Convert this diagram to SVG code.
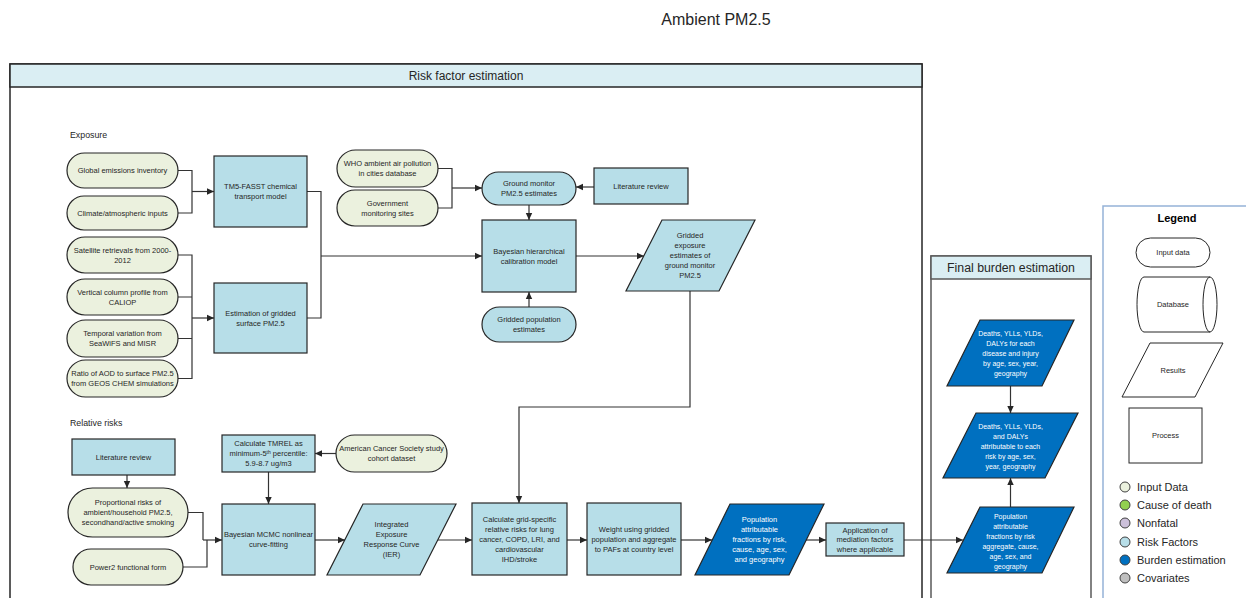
<svg xmlns="http://www.w3.org/2000/svg" width="1246" height="598" viewBox="0 0 1246 598">
  <style>
    .t { font-family: "Liberation Sans", Arial, sans-serif; font-size: 7.5px; fill: #262626; text-anchor: middle; }
    .tw { fill: #ffffff; }
    .tf { font-size: 7px; }
    .lbl { font-family: "Liberation Sans", Arial, sans-serif; font-size: 8.8px; fill: #262626; }
    .inp { fill: #EBF1DE; stroke: #262626; stroke-width: 1.2; }
    .proc { fill: #B7DEE8; stroke: #262626; stroke-width: 1.2; }
    .burden { fill: #0070C0; stroke: #262626; stroke-width: 1.2; }
    .blank { fill: #ffffff; stroke: #262626; stroke-width: 1; }
    .conn { fill: none; stroke: #333333; stroke-width: 1.2; }
    .frame { fill: #ffffff; stroke: #262626; stroke-width: 1.5; }
    .head { fill: #DAEEF3; stroke: #262626; stroke-width: 1.5; }
    .dot { stroke: #404040; stroke-width: 1; }
    .leg { font-family: "Liberation Sans", Arial, sans-serif; font-size: 11px; fill: #262626; }
  </style>
  <defs>
    <marker id="arr" markerWidth="8" markerHeight="8" refX="7" refY="4" orient="auto" markerUnits="userSpaceOnUse">
      <path d="M0,0.8 L7,4 L0,7.2 Z" fill="#262626"/>
    </marker>
  </defs>

  <rect width="1246" height="598" fill="#ffffff"/>

  <!-- page title -->
  <text x="716" y="25" font-family="Liberation Sans, Arial, sans-serif" font-size="16" fill="#262626" text-anchor="middle">Ambient PM2.5</text>

  <!-- swimlane frames -->
  <g id="frame-risk">
    <rect class="frame" x="10" y="64" width="912" height="560"/>
    <rect class="head" x="10" y="64" width="912" height="23"/>
    <text x="466" y="79.5" font-family="Liberation Sans, Arial, sans-serif" font-size="12" fill="#262626" text-anchor="middle">Risk factor estimation</text>
    <text class="lbl" x="70" y="138">Exposure</text>
    <text class="lbl" x="70" y="426">Relative risks</text>
  </g>
  <g id="frame-burden">
    <rect x="931" y="256" width="160" height="370" fill="#ffffff" stroke="#595959" stroke-width="1.5"/>
    <rect x="931" y="256" width="160" height="23" fill="#DAEEF3" stroke="#595959" stroke-width="1.5"/>
    <text x="1011" y="272" font-family="Liberation Sans, Arial, sans-serif" font-size="12.3" fill="#262626" text-anchor="middle">Final burden estimation</text>
  </g>

  <!-- connectors -->
  <g id="connectors">
    <path class="conn" d="M178,170.5 H192 V213 H178"/>
    <path class="conn" d="M192,191.5 H214" marker-end="url(#arr)"/>
    <path class="conn" d="M178,255 H192 V378.5 H178 M178,297 H192 M178,338.5 H192"/>
    <path class="conn" d="M192,318 H214" marker-end="url(#arr)"/>
    <path class="conn" d="M307,191.5 H321 V318 H307"/>
    <path class="conn" d="M321,256 H482" marker-end="url(#arr)"/>
    <path class="conn" d="M438,168.5 H452 V208 H438"/>
    <path class="conn" d="M452,188 H482" marker-end="url(#arr)"/>
    <path class="conn" d="M594,187 H576" marker-end="url(#arr)"/>
    <path class="conn" d="M529,205 V220" marker-end="url(#arr)"/>
    <path class="conn" d="M529,307 V292" marker-end="url(#arr)"/>
    <path class="conn" d="M576,256 H644" marker-end="url(#arr)"/>
    <path class="conn" d="M690,291 V407 H519 V503" marker-end="url(#arr)"/>
    <path class="conn" d="M127,475 V488" marker-end="url(#arr)"/>
    <path class="conn" d="M188,512.5 H203 V540"/>
    <path class="conn" d="M183,567 H207 V540"/>
    <path class="conn" d="M203,540 H222" marker-end="url(#arr)"/>
    <path class="conn" d="M268.5,472 V504" marker-end="url(#arr)"/>
    <path class="conn" d="M336,453.5 H315" marker-end="url(#arr)"/>
    <path class="conn" d="M315,540 H345" marker-end="url(#arr)"/>
    <path class="conn" d="M438,540 H472" marker-end="url(#arr)"/>
    <path class="conn" d="M567,540 H587" marker-end="url(#arr)"/>
    <path class="conn" d="M681,540 H712" marker-end="url(#arr)"/>
    <path class="conn" d="M806,540 H826" marker-end="url(#arr)"/>
    <path class="conn" d="M904,540 H963" marker-end="url(#arr)"/>
    <path class="conn" d="M1010.5,386 V413" marker-end="url(#arr)"/>
    <path class="conn" d="M1010.5,507 V478" marker-end="url(#arr)"/>
  </g>

  <!-- exposure inputs -->
  <g id="in-global">
    <rect class="inp" x="67" y="153" width="111" height="35" rx="17.5"/>
    <text class="t" x="122.5" y="173.1">Global emissions inventory</text>
  </g>
  <g id="in-climate">
    <rect class="inp" x="67" y="196" width="111" height="34" rx="17"/>
    <text class="t" x="122.5" y="215.6">Climate/atmospheric inputs</text>
  </g>
  <g id="in-satellite">
    <rect class="inp" x="67" y="237" width="111" height="36" rx="18"/>
    <text class="t" x="122.5" y="252.6">Satellite retrievals from 2000-</text>
    <text class="t" x="122.5" y="262.6">2012</text>
  </g>
  <g id="in-vertical">
    <rect class="inp" x="67" y="279" width="111" height="36" rx="18"/>
    <text class="t" x="122.5" y="294.6">Vertical column profile from</text>
    <text class="t" x="122.5" y="304.6">CALIOP</text>
  </g>
  <g id="in-temporal">
    <rect class="inp" x="67" y="320" width="111" height="37" rx="18.5"/>
    <text class="t" x="122.5" y="336.1">Temporal variation from</text>
    <text class="t" x="122.5" y="346.1">SeaWiFS and MISR</text>
  </g>
  <g id="in-ratio">
    <rect class="inp" x="67" y="360" width="111" height="37" rx="18.5"/>
    <text class="t" x="122.5" y="376.1">Ratio of AOD to surface PM2.5</text>
    <text class="t" x="122.5" y="386.1">from GEOS CHEM simulations</text>
  </g>

  <!-- exposure models -->
  <g id="tm5-fasst">
    <rect class="proc" x="214" y="156" width="93" height="71"/>
    <text class="t" x="260.5" y="189.1">TM5-FASST chemical</text>
    <text class="t" x="260.5" y="199.1">transport model</text>
  </g>
  <g id="gridded-surface">
    <rect class="proc" x="214" y="283" width="93" height="70"/>
    <text class="t" x="260.5" y="315.6">Estimation of gridded</text>
    <text class="t" x="260.5" y="325.6">surface PM2.5</text>
  </g>
  <g id="in-who">
    <rect class="inp" x="337" y="150" width="101" height="37" rx="18.5"/>
    <text class="t" x="387.5" y="166.1">WHO ambient air pollution</text>
    <text class="t" x="387.5" y="176.1">in cities database</text>
  </g>
  <g id="in-government">
    <rect class="inp" x="337" y="190" width="101" height="36" rx="18"/>
    <text class="t" x="387.5" y="205.6">Government</text>
    <text class="t" x="387.5" y="215.6">monitoring sites</text>
  </g>
  <g id="ground-monitor">
    <rect class="proc" x="482" y="172" width="94" height="33" rx="16.5"/>
    <text class="t" x="529" y="186.1">Ground monitor</text>
    <text class="t" x="529" y="196.1">PM2.5 estimates</text>
  </g>
  <g id="literature-exposure">
    <rect class="proc" x="594" y="168" width="94" height="36"/>
    <text class="t" x="641" y="188.6">Literature review</text>
  </g>
  <g id="bayesian-calibration">
    <rect class="proc" x="482" y="220" width="94" height="72"/>
    <text class="t" x="529" y="253.6">Bayesian hierarchical</text>
    <text class="t" x="529" y="263.6">calibration model</text>
  </g>
  <g id="gridded-population">
    <rect class="proc" x="482" y="307" width="94" height="35" rx="17.5"/>
    <text class="t" x="529" y="322.1">Gridded population</text>
    <text class="t" x="529" y="332.1">estimates</text>
  </g>
  <g id="gridded-exposure">
    <polygon class="proc" points="662,220 755,220 719,291 626,291"/>
    <text class="t" x="690" y="238.1">Gridded</text>
    <text class="t" x="690" y="248.1">exposure</text>
    <text class="t" x="690" y="258.1">estimates of</text>
    <text class="t" x="690" y="268.1">ground monitor</text>
    <text class="t" x="690" y="278.1">PM2.5</text>
  </g>

  <!-- relative risks -->
  <g id="literature-rr">
    <rect class="proc" x="72" y="439" width="103" height="36"/>
    <text class="t" x="123.5" y="459.6">Literature review</text>
  </g>
  <g id="proportional-risks">
    <rect class="inp" x="68" y="488" width="120" height="49" rx="24.5"/>
    <text class="t" x="128" y="505.1">Proportional risks of</text>
    <text class="t" x="128" y="515.1">ambient/household PM2.5,</text>
    <text class="t" x="128" y="525.1">secondhand/active smoking</text>
  </g>
  <g id="power2">
    <rect class="inp" x="73" y="549" width="110" height="36" rx="18"/>
    <text class="t" x="128" y="569.6">Power2 functional form</text>
  </g>
  <g id="tmrel">
    <rect class="proc" x="222" y="435" width="93" height="37"/>
    <text class="t" x="268.5" y="446.1">Calculate TMREL as</text>
    <text class="t" x="268.5" y="456.1">minimum-5<tspan font-size="5" dy="-2.5">th</tspan><tspan dy="2.5"> percentile:</tspan></text>
    <text class="t" x="268.5" y="466.1">5.9-8.7 ug/m3</text>
  </g>
  <g id="acs-cohort">
    <rect class="inp" x="336" y="435" width="111" height="37" rx="18.5"/>
    <text class="t" x="391.5" y="451.1">American Cancer Society study</text>
    <text class="t" x="391.5" y="461.1">cohort dataset</text>
  </g>
  <g id="mcmc">
    <rect class="proc" x="222" y="504" width="93" height="71"/>
    <text class="t" x="268.5" y="537.1">Bayesian MCMC nonlinear</text>
    <text class="t" x="268.5" y="547.1">curve-fitting</text>
  </g>
  <g id="ier">
    <polygon class="proc" points="363,504 456,504 420,575 327,575"/>
    <text class="t" x="391.5" y="527.1">Integrated</text>
    <text class="t" x="391.5" y="537.1">Exposure</text>
    <text class="t" x="391.5" y="547.1">Response Curve</text>
    <text class="t" x="391.5" y="557.1">(IER)</text>
  </g>
  <g id="grid-rr">
    <rect class="proc" x="472" y="503" width="95" height="72"/>
    <text class="t" x="519.5" y="522.1">Calculate grid-specific</text>
    <text class="t" x="519.5" y="532.1">relative risks for lung</text>
    <text class="t" x="519.5" y="542.1">cancer, COPD, LRI, and</text>
    <text class="t" x="519.5" y="552.1">cardiovascular</text>
    <text class="t" x="519.5" y="562.1">IHD/stroke</text>
  </g>
  <g id="weight-paf">
    <rect class="proc" x="587" y="503" width="94" height="72"/>
    <text class="t" x="634" y="532.1">Weight using gridded</text>
    <text class="t" x="634" y="542.1">population and aggregate</text>
    <text class="t" x="634" y="552.1">to PAFs at country level</text>
  </g>
  <g id="paf">
    <polygon class="burden" points="730,504 824,504 789,575 695,575"/>
    <text class="t tw" x="759.5" y="522.1">Population</text>
    <text class="t tw" x="759.5" y="532.1">attributable</text>
    <text class="t tw" x="759.5" y="542.1">fractions by risk,</text>
    <text class="t tw" x="759.5" y="552.1">cause, age, sex,</text>
    <text class="t tw" x="759.5" y="562.1">and geography</text>
  </g>
  <g id="mediation">
    <rect class="proc" x="826" y="523" width="78" height="33"/>
    <text class="t" x="865" y="532.9" font-size="8.3">Application of</text>
    <text class="t" x="865" y="542.4" font-size="8.3">mediation factors</text>
    <text class="t" x="865" y="551.9" font-size="8.3">where applicable</text>
  </g>

  <!-- final burden -->
  <g id="burden-all">
    <polygon class="burden" points="980,320 1074,320 1042,386 947,386"/>
    <text class="t tw tf" x="1010.5" y="335.5">Deaths, YLLs, YLDs,</text>
    <text class="t tw tf" x="1010.5" y="345.5">DALYs for each</text>
    <text class="t tw tf" x="1010.5" y="355.5">disease and injury</text>
    <text class="t tw tf" x="1010.5" y="365.5">by age, sex, year,</text>
    <text class="t tw tf" x="1010.5" y="375.5">geography</text>
  </g>
  <g id="burden-attrib">
    <polygon class="burden" points="976,413 1078,413 1045,478 943,478"/>
    <text class="t tw tf" x="1010.5" y="429.3">Deaths, YLLs, YLDs,</text>
    <text class="t tw tf" x="1010.5" y="439.3">and DALYs</text>
    <text class="t tw tf" x="1010.5" y="449.3">attributable to each</text>
    <text class="t tw tf" x="1010.5" y="459.3">risk by age, sex,</text>
    <text class="t tw tf" x="1010.5" y="469.3">year, geography</text>
  </g>
  <g id="burden-paf">
    <polygon class="burden" points="980,507 1074,507 1042,573 947,573"/>
    <text class="t tw tf" x="1010.5" y="518.5">Population</text>
    <text class="t tw tf" x="1010.5" y="528.5">attributable</text>
    <text class="t tw tf" x="1010.5" y="538.5">fractions by risk</text>
    <text class="t tw tf" x="1010.5" y="548.5">aggregate, cause,</text>
    <text class="t tw tf" x="1010.5" y="558.5">age, sex, and</text>
    <text class="t tw tf" x="1010.5" y="568.5">geography</text>
  </g>

  <!-- legend -->
  <g id="legend">
    <rect x="1103" y="206" width="160" height="420" fill="#ffffff" stroke="#95B3D7" stroke-width="1.5"/>
    <text x="1177" y="222" font-family="Liberation Sans, Arial, sans-serif" font-size="11" font-weight="bold" fill="#000000" text-anchor="middle">Legend</text>
    <rect class="blank" x="1136" y="238" width="74" height="29" rx="14.5"/>
    <text class="t" x="1173" y="255" font-size="7">Input data</text>
    <path class="blank" d="M1144,277 H1210 A7,27.5 0 0 1 1210,332 H1144 A7,27.5 0 0 1 1144,277 Z M1210,277 A7,27.5 0 0 0 1210,332"/>
    <text class="t" x="1173" y="306.5" font-size="7">Database</text>
    <polygon class="blank" points="1150,343 1223,343 1195,397 1122,397"/>
    <text class="t" x="1173" y="372.5" font-size="7">Results</text>
    <rect class="blank" x="1129" y="408" width="73" height="55"/>
    <text class="t" x="1165.5" y="438" font-size="7">Process</text>
    <circle class="dot" cx="1125" cy="487" r="5" fill="#EBF1DE"/>
    <text class="leg" x="1137" y="491">Input Data</text>
    <circle class="dot" cx="1125" cy="505" r="5" fill="#92D050"/>
    <text class="leg" x="1137" y="509">Cause of death</text>
    <circle class="dot" cx="1125" cy="523" r="5" fill="#CCC0DA"/>
    <text class="leg" x="1137" y="527">Nonfatal</text>
    <circle class="dot" cx="1125" cy="542" r="5" fill="#B7DEE8"/>
    <text class="leg" x="1137" y="546">Risk Factors</text>
    <circle class="dot" cx="1125" cy="560" r="5" fill="#0070C0"/>
    <text class="leg" x="1137" y="564">Burden estimation</text>
    <circle class="dot" cx="1125" cy="578" r="5" fill="#BFBFBF"/>
    <text class="leg" x="1137" y="582">Covariates</text>
  </g>
</svg>
